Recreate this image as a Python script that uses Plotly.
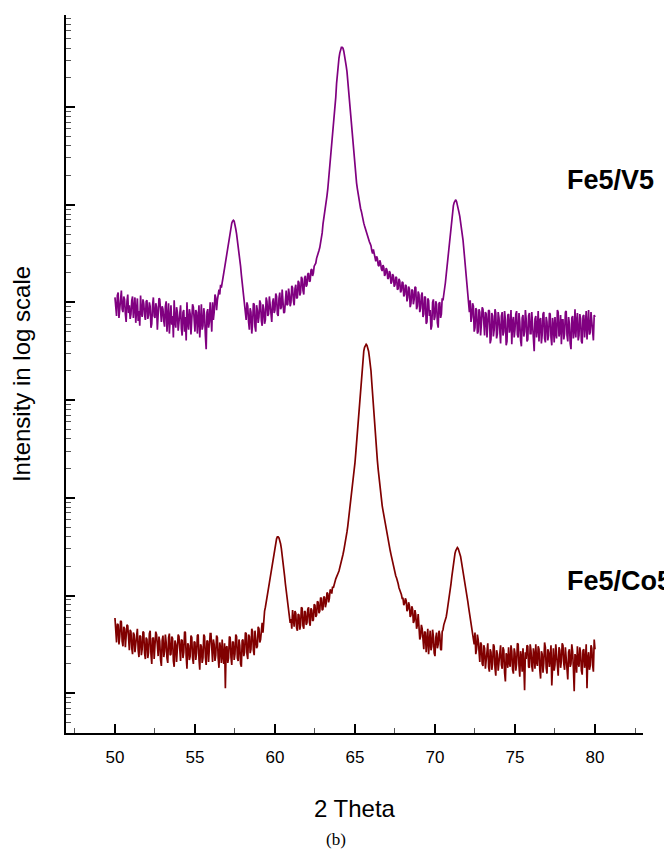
import plotly.graph_objects as go

# 2-theta sampling grid (degrees), 50.00 ... 80.00 in 0.05 steps
two_theta = [round(50 + 0.05 * i, 2) for i in range(601)]

# log10 of intensity (Fe5/V5, purple); one row per degree
fe5_v5_log_intensity = [
    4.05, 3.92, 3.86, 4.07, 4.10, 3.84, 3.95, 4.09, 4.12, 3.93, 3.90, 4.06, 4.03, 3.88, 3.80, 4.01, 4.08, 3.89, 3.97, 3.83,  # 50
    3.88, 4.02, 4.06, 3.84, 3.93, 4.05, 3.79, 3.98, 4.04, 3.81, 3.91, 3.76, 4.07, 3.90, 3.85, 4.03, 3.99, 3.87, 3.82, 4.01,  # 51
    4.02, 3.83, 3.87, 4.00, 3.96, 3.74, 3.78, 3.97, 4.05, 3.86, 3.84, 3.99, 3.95, 3.72, 3.90, 4.04, 4.03, 3.85, 3.80, 3.96,  # 52
    3.93, 3.81, 3.75, 3.96, 4.01, 3.70, 3.83, 3.99, 3.68, 3.88, 3.97, 3.77, 3.86, 3.64, 4.02, 3.80, 3.74, 3.95, 3.90, 3.71,  # 53
    3.80, 3.94, 3.97, 3.73, 3.66, 3.90, 3.92, 3.70, 3.85, 3.61, 4.00, 3.79, 3.72, 3.93, 3.88, 3.67, 3.78, 3.98, 3.95, 3.75,  # 54
    3.70, 3.92, 3.90, 3.68, 3.82, 3.97, 3.64, 3.85, 3.98, 3.72, 3.76, 3.94, 3.87, 3.66, 3.52, 3.90, 3.93, 3.74, 3.80, 4.00,  # 55
    3.85, 3.70, 4.00, 3.82, 3.90, 4.08, 4.05, 3.92, 4.02, 4.10, 4.13, 4.08, 4.18, 4.15, 4.22, 4.26, 4.30, 4.35, 4.40, 4.45,  # 56
    4.51, 4.57, 4.62, 4.68, 4.73, 4.78, 4.81, 4.83, 4.84, 4.83, 4.80, 4.75, 4.70, 4.64, 4.58, 4.52, 4.45, 4.37, 4.28, 4.19,  # 57
    4.10, 4.02, 3.95, 3.88, 3.82, 4.00, 3.96, 3.80, 3.72, 3.94, 3.90, 3.68, 3.78, 3.99, 3.98, 3.75, 3.70, 3.97, 3.92, 3.79,  # 58
    3.85, 4.02, 3.99, 3.81, 3.76, 3.98, 3.93, 3.78, 3.82, 4.05, 4.01, 3.86, 3.88, 4.06, 3.97, 3.83, 3.80, 4.00, 4.04, 3.89,  # 59
    3.92, 4.09, 4.06, 3.88, 3.86, 4.04, 4.10, 3.93, 3.95, 4.13, 4.03, 3.89, 3.90, 4.08, 4.12, 3.97, 3.98, 4.14, 4.08, 3.96,  # 60
    4.00, 4.17, 4.15, 4.02, 3.97, 4.14, 4.18, 4.04, 4.05, 4.22, 4.20, 4.07, 4.10, 4.26, 4.24, 4.12, 4.08, 4.25, 4.27, 4.16,  # 61
    4.18, 4.29, 4.30, 4.21, 4.22, 4.33, 4.34, 4.27, 4.30, 4.37, 4.38, 4.40, 4.45, 4.47, 4.50, 4.53, 4.56, 4.60, 4.64, 4.71,  # 62
    4.80, 4.85, 4.90, 4.96, 5.02, 5.09, 5.16, 5.25, 5.34, 5.44, 5.55, 5.66, 5.76, 5.83, 5.90, 6.00, 6.10, 6.24, 6.36, 6.44,  # 63
    6.50, 6.55, 6.59, 6.61, 6.61, 6.60, 6.57, 6.53, 6.47, 6.42, 6.36, 6.26, 6.15, 6.04, 5.94, 5.86, 5.77, 5.66, 5.55, 5.45,  # 64
    5.36, 5.29, 5.22, 5.16, 5.10, 5.05, 5.00, 4.96, 4.93, 4.88, 4.84, 4.81, 4.78, 4.75, 4.72, 4.69, 4.66, 4.64, 4.62, 4.60,  # 65
    4.58, 4.53, 4.50, 4.54, 4.49, 4.45, 4.42, 4.47, 4.45, 4.38, 4.37, 4.43, 4.40, 4.34, 4.32, 4.38, 4.36, 4.27, 4.29, 4.35,  # 66
    4.33, 4.24, 4.25, 4.32, 4.30, 4.19, 4.21, 4.29, 4.27, 4.16, 4.18, 4.26, 4.25, 4.13, 4.14, 4.24, 4.22, 4.10, 4.12, 4.21,  # 67
    4.20, 4.06, 4.08, 4.18, 4.17, 4.01, 4.05, 4.16, 4.14, 3.95, 3.99, 4.13, 4.12, 3.98, 4.03, 4.16, 4.15, 3.93, 3.96, 4.11,  # 68
    4.08, 3.90, 3.94, 4.07, 4.10, 3.85, 3.88, 4.06, 4.05, 3.78, 3.80, 4.04, 4.02, 3.86, 3.92, 3.72, 3.76, 4.00, 4.03, 3.82,  # 69
    3.85, 4.01, 3.98, 3.79, 3.74, 3.99, 4.00, 3.84, 3.88, 4.04, 4.02, 4.08, 4.13, 4.20, 4.28, 4.36, 4.45, 4.55, 4.65, 4.74,  # 70
    4.82, 4.89, 4.94, 4.99, 5.02, 5.04, 5.05, 5.03, 5.00, 4.96, 4.92, 4.88, 4.83, 4.78, 4.72, 4.64, 4.55, 4.45, 4.35, 4.24,  # 71
    4.14, 4.04, 3.98, 3.90, 4.02, 3.80, 3.85, 3.99, 3.96, 3.70, 3.74, 3.94, 3.92, 3.68, 3.70, 3.93, 3.90, 3.66, 3.78, 3.95,  # 72
    3.93, 3.71, 3.66, 3.90, 3.88, 3.64, 3.75, 3.92, 3.91, 3.58, 3.62, 3.89, 3.86, 3.65, 3.72, 3.93, 3.89, 3.63, 3.68, 3.90,  # 73
    3.84, 3.63, 3.58, 3.86, 3.90, 3.66, 3.70, 3.91, 3.82, 3.56, 3.60, 3.87, 3.88, 3.69, 3.74, 3.92, 3.57, 3.80, 3.85, 3.64,  # 74
    3.72, 3.88, 3.91, 3.67, 3.64, 3.89, 3.80, 3.61, 3.55, 3.84, 3.87, 3.65, 3.70, 3.92, 3.83, 3.60, 3.62, 3.86, 3.89, 3.68,  # 75
    3.68, 3.90, 3.78, 3.62, 3.50, 3.83, 3.86, 3.64, 3.73, 3.91, 3.60, 3.81, 3.84, 3.58, 3.67, 3.88, 3.90, 3.63, 3.59, 3.85,  # 76
    3.80, 3.61, 3.66, 3.89, 3.88, 3.64, 3.56, 3.84, 3.76, 3.59, 3.85, 3.68, 3.63, 3.92, 3.90, 3.65, 3.70, 3.87, 3.57, 3.82,  # 77
    3.82, 3.62, 3.68, 3.90, 3.91, 3.66, 3.60, 3.85, 3.78, 3.58, 3.52, 3.84, 3.86, 3.63, 3.71, 3.93, 3.64, 3.80, 3.89, 3.61,  # 78
    3.66, 3.88, 3.83, 3.60, 3.58, 3.86, 3.87, 3.64, 3.74, 3.91, 3.62, 3.85, 3.92, 3.67, 3.69, 3.90, 3.80, 3.63, 3.61, 3.87,  # 79
    3.85,                                                                                                                    # 80
]

# log10 of intensity (Fe5/Co5, dark red); one row per degree
fe5_co5_log_intensity = [
    0.77, 0.60, 0.52, 0.71, 0.70, 0.50, 0.58, 0.74, 0.73, 0.53, 0.48, 0.68, 0.66, 0.47, 0.55, 0.70, 0.69, 0.50, 0.44, 0.65,  # 50
    0.63, 0.46, 0.40, 0.62, 0.60, 0.42, 0.50, 0.64, 0.66, 0.44, 0.37, 0.59, 0.58, 0.39, 0.45, 0.63, 0.62, 0.41, 0.35, 0.57,  # 51
    0.55, 0.36, 0.42, 0.61, 0.64, 0.40, 0.30, 0.56, 0.57, 0.35, 0.46, 0.63, 0.60, 0.41, 0.38, 0.58, 0.53, 0.34, 0.28, 0.54,  # 52
    0.59, 0.37, 0.43, 0.60, 0.52, 0.36, 0.31, 0.57, 0.61, 0.39, 0.40, 0.58, 0.56, 0.33, 0.27, 0.54, 0.50, 0.32, 0.45, 0.60,  # 53
    0.58, 0.39, 0.33, 0.55, 0.54, 0.36, 0.42, 0.63, 0.62, 0.38, 0.25, 0.51, 0.49, 0.34, 0.38, 0.59, 0.57, 0.36, 0.30, 0.53,  # 54
    0.52, 0.34, 0.41, 0.59, 0.60, 0.35, 0.24, 0.50, 0.48, 0.31, 0.36, 0.60, 0.58, 0.37, 0.29, 0.54, 0.53, 0.32, 0.44, 0.61,  # 55
    0.61, 0.40, 0.32, 0.55, 0.50, 0.33, 0.39, 0.59, 0.57, 0.36, 0.26, 0.52, 0.46, 0.31, 0.55, 0.38, 0.30, 0.51, 0.05, 0.47,  # 56
    0.48, 0.31, 0.36, 0.58, 0.57, 0.37, 0.29, 0.53, 0.52, 0.34, 0.40, 0.60, 0.58, 0.36, 0.33, 0.55, 0.49, 0.30, 0.27, 0.54,  # 57
    0.55, 0.38, 0.42, 0.62, 0.61, 0.40, 0.35, 0.60, 0.58, 0.41, 0.45, 0.66, 0.63, 0.44, 0.39, 0.64, 0.57, 0.46, 0.48, 0.68,  # 58
    0.66, 0.52, 0.55, 0.70, 0.72, 0.62, 0.80, 0.84, 0.88, 0.94, 1.00, 1.04, 1.08, 1.13, 1.18, 1.23, 1.29, 1.35, 1.42, 1.47,  # 59
    1.52, 1.56, 1.58, 1.60, 1.60, 1.59, 1.57, 1.53, 1.48, 1.42, 1.35, 1.28, 1.20, 1.12, 1.05, 0.98, 0.92, 0.87, 0.82, 0.72,  # 60
    0.76, 0.66, 0.85, 0.74, 0.68, 0.84, 0.82, 0.67, 0.64, 0.81, 0.80, 0.65, 0.70, 0.88, 0.87, 0.69, 0.66, 0.84, 0.83, 0.70,  # 61
    0.72, 0.86, 0.88, 0.73, 0.69, 0.87, 0.85, 0.74, 0.75, 0.91, 0.90, 0.78, 0.80, 0.94, 0.93, 0.82, 0.84, 0.98, 0.97, 0.85,  # 62
    0.86, 0.99, 0.98, 0.88, 0.92, 1.03, 1.02, 0.93, 0.97, 1.06, 1.05, 1.02, 1.09, 1.08, 1.12, 1.14, 1.17, 1.19, 1.22, 1.23,  # 63
    1.25, 1.28, 1.32, 1.35, 1.38, 1.42, 1.46, 1.50, 1.55, 1.60, 1.65, 1.71, 1.78, 1.84, 1.90, 1.97, 2.05, 2.12, 2.20, 2.28,  # 64
    2.36, 2.46, 2.56, 2.68, 2.80, 2.92, 3.03, 3.14, 3.25, 3.35, 3.44, 3.50, 3.54, 3.56, 3.57, 3.56, 3.54, 3.50, 3.44, 3.38,  # 65
    3.30, 3.18, 3.05, 2.93, 2.82, 2.71, 2.60, 2.49, 2.38, 2.29, 2.20, 2.12, 2.05, 1.98, 1.92, 1.87, 1.82, 1.78, 1.74, 1.70,  # 66
    1.66, 1.60, 1.55, 1.50, 1.46, 1.42, 1.38, 1.34, 1.30, 1.27, 1.24, 1.20, 1.18, 1.16, 1.12, 1.08, 1.06, 1.05, 1.01, 0.97,  # 67
    0.97, 0.90, 0.92, 0.97, 0.95, 0.84, 0.86, 0.93, 0.90, 0.78, 0.80, 0.89, 0.86, 0.72, 0.74, 0.85, 0.80, 0.66, 0.70, 0.81,  # 68
    0.72, 0.55, 0.58, 0.70, 0.66, 0.49, 0.45, 0.63, 0.62, 0.42, 0.52, 0.66, 0.40, 0.57, 0.64, 0.44, 0.48, 0.65, 0.58, 0.41,  # 69
    0.38, 0.57, 0.62, 0.46, 0.50, 0.64, 0.60, 0.45, 0.44, 0.63, 0.65, 0.70, 0.72, 0.75, 0.78, 0.83, 0.88, 0.94, 1.00, 1.06,  # 70
    1.12, 1.19, 1.26, 1.32, 1.38, 1.43, 1.46, 1.48, 1.49, 1.48, 1.46, 1.43, 1.40, 1.35, 1.30, 1.26, 1.22, 1.17, 1.13, 1.06,  # 71
    1.00, 0.94, 0.88, 0.83, 0.78, 0.72, 0.68, 0.62, 0.58, 0.50, 0.62, 0.40, 0.45, 0.60, 0.55, 0.36, 0.32, 0.52, 0.50, 0.30,  # 72
    0.28, 0.49, 0.46, 0.25, 0.36, 0.50, 0.51, 0.27, 0.22, 0.45, 0.42, 0.24, 0.30, 0.50, 0.48, 0.26, 0.18, 0.44, 0.40, 0.23,  # 73
    0.33, 0.48, 0.49, 0.29, 0.25, 0.47, 0.44, 0.21, 0.12, 0.41, 0.38, 0.26, 0.47, 0.31, 0.27, 0.49, 0.43, 0.24, 0.20, 0.46,  # 74
    0.41, 0.23, 0.30, 0.51, 0.50, 0.28, 0.17, 0.43, 0.37, 0.22, 0.46, 0.30, 0.03, 0.42, 0.35, 0.49, 0.48, 0.27, 0.26, 0.50,  # 75
    0.44, 0.28, 0.22, 0.46, 0.39, 0.25, 0.50, 0.32, 0.28, 0.48, 0.45, 0.24, 0.15, 0.43, 0.40, 0.21, 0.31, 0.52, 0.47, 0.26,  # 76
    0.20, 0.45, 0.42, 0.27, 0.35, 0.49, 0.08, 0.38, 0.46, 0.23, 0.29, 0.50, 0.40, 0.24, 0.18, 0.47, 0.44, 0.26, 0.33, 0.51,  # 77
    0.49, 0.30, 0.24, 0.47, 0.38, 0.22, 0.14, 0.42, 0.45, 0.27, 0.30, 0.50, 0.43, 0.25, 0.02, 0.40, 0.37, 0.21, 0.48, 0.31,  # 78
    0.27, 0.47, 0.41, 0.23, 0.19, 0.44, 0.45, 0.26, 0.33, 0.50, 0.05, 0.36, 0.42, 0.24, 0.28, 0.49, 0.46, 0.29, 0.22, 0.55,  # 79
    0.45,                                                                                                                    # 80
]

assert len(fe5_v5_log_intensity) == len(two_theta), len(fe5_v5_log_intensity)
assert len(fe5_co5_log_intensity) == len(two_theta), len(fe5_co5_log_intensity)

series_names = ["Fe5/V5", "Fe5/Co5"]
series_colors = ["#800080", "#800000"]
x_tick_values = [50, 55, 60, 65, 70, 75, 80]
x_tick_labels = ["50", "55", "60", "65", "70", "75", "80"]
x_minor_values = [47.5, 52.5, 57.5, 62.5, 67.5, 72.5, 77.5, 82.5]

fe5_v5_intensity = [10 ** v for v in fe5_v5_log_intensity]
fe5_co5_intensity = [10 ** v for v in fe5_co5_log_intensity]

fig = go.Figure()
for name, ys, col in zip(series_names, [fe5_v5_intensity, fe5_co5_intensity], series_colors):
    fig.add_trace(go.Scatter(x=two_theta, y=ys, mode="lines", name=name,
                             line=dict(color=col, width=1.7)))

# the page body adds an 8px margin, so the figure is kept inside the window
fig.update_layout(
    width=664, height=842,
    margin=dict(l=58, r=29, t=7, b=117),
    plot_bgcolor="white", paper_bgcolor="white",
    showlegend=False,
    font=dict(family="Liberation Sans, Arial, sans-serif", color="black"),
)

fig.update_xaxes(
    range=[46.94, 83.0],
    showline=True, linecolor="black", linewidth=2,
    ticks="inside", ticklen=9, tickwidth=2, tickcolor="black",
    tickvals=x_tick_values, ticktext=x_tick_labels,
    minor=dict(ticks="inside", ticklen=5, tickwidth=1, tickcolor="#555",
               tickvals=x_minor_values),
    showgrid=False, zeroline=False,
    tickfont=dict(size=17),
    ticklabelstandoff=8,
    title=dict(text="2 Theta", font=dict(size=24), standoff=34),
)

fig.update_yaxes(
    type="log", range=[-0.407, 6.94],
    showline=True, linecolor="black", linewidth=2,
    ticks="inside", ticklen=9, tickwidth=2, tickcolor="black",
    dtick=1, showticklabels=False,
    minor=dict(ticks="inside", ticklen=5, tickwidth=1, tickcolor="#555", dtick="D1"),
    showgrid=False, zeroline=False,
    title=dict(text="Intensity in log scale", font=dict(size=24), standoff=29),
)

fig.add_annotation(text="<b>Fe5/V5</b>", xref="paper", yref="paper",
                   x=0.8648, y=0.7695, xanchor="left", yanchor="middle",
                   showarrow=False, font=dict(size=27, color="black"))
fig.add_annotation(text="<b>Fe5/Co5</b>", xref="paper", yref="paper",
                   x=0.8648, y=0.2117, xanchor="left", yanchor="middle",
                   showarrow=False, font=dict(size=27, color="black"))
fig.add_annotation(text="(b)", xref="paper", yref="paper",
                   x=0.468, y=-0.149, xanchor="center", yanchor="middle",
                   showarrow=False,
                   font=dict(size=17, color="black", family="Liberation Serif, Times New Roman, serif"))

fig.write_html("out.html")
